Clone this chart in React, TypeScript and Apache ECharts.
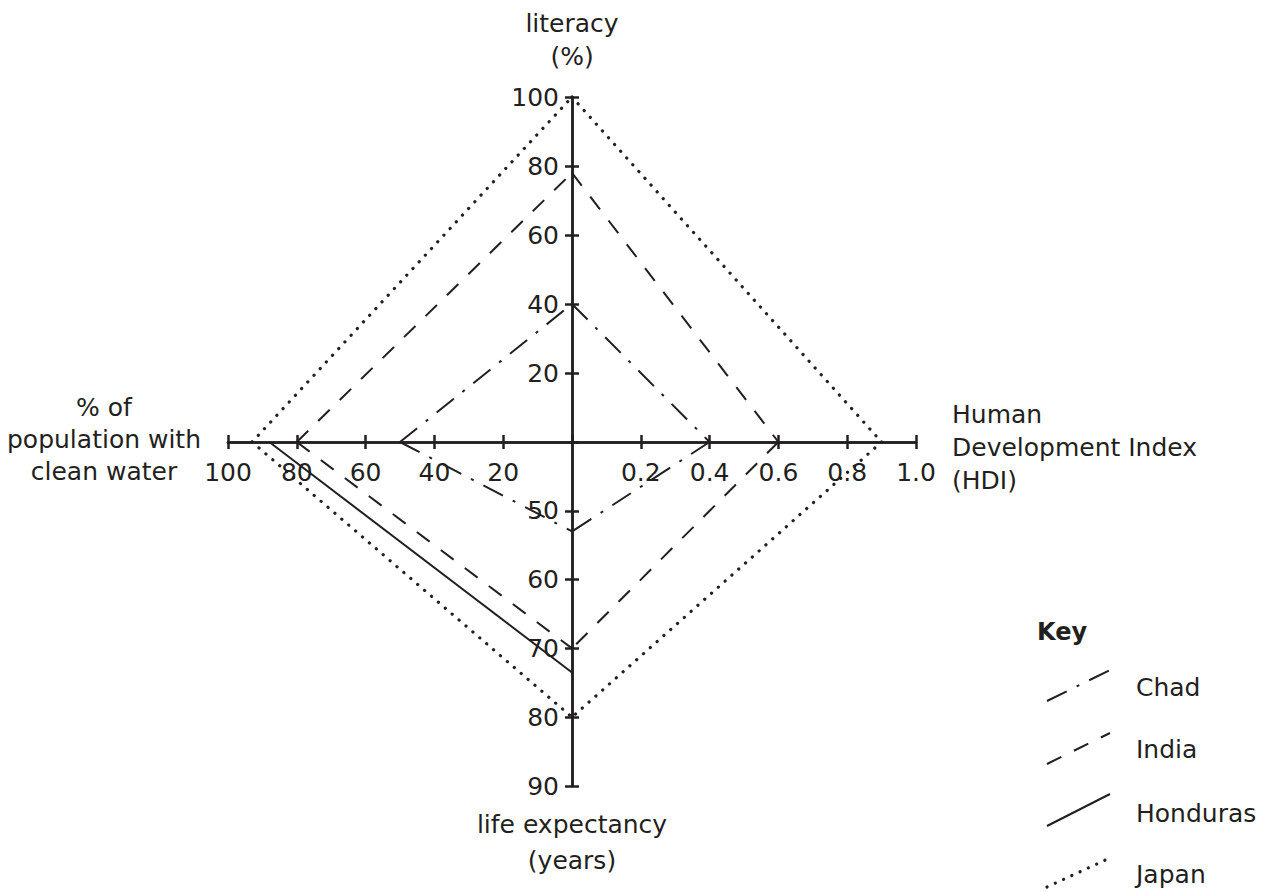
import React, { useEffect, useRef } from 'react';
import * as echarts from 'echarts';

// ---- data ----
const countries = ['Chad', 'India', 'Honduras', 'Japan'];
const literacy: (number | null)[] = [40, 78, null, 100];      // %
const hdi: (number | null)[] = [0.4, 0.6, null, 0.9];          // index
const lifeExpectancy: (number | null)[] = [53, 70, 73.5, 80]; // years
const cleanWater: (number | null)[] = [50, 80, 88, 93];        // %

const literacyTicks = [0, 20, 40, 60, 80, 100];
const hdiTicks = [0, 0.2, 0.4, 0.6, 0.8, 1.0];
const lifeTicks = [40, 50, 60, 70, 80, 90];
const waterTicks = [0, 20, 40, 60, 80, 100];

const INK = '#231f20';
const FONT = 'DejaVu Sans';

const lineStyles: any[] = [
  { type: [22, 11, 3, 11], width: 2, cap: 'butt' },
  { type: [16, 14], width: 2, cap: 'butt' },
  { type: 'solid', width: 2, cap: 'butt' },
  { type: [0.1, 9], width: 3.2, cap: 'round' },
];

const range = (t: number[]) => ({ min: t[0], max: t[t.length - 1], interval: t[1] - t[0] });

function axis(gridIndex: number, ticks: number[], extra: any) {
  const r = range(ticks);
  return {
    type: 'value',
    gridIndex,
    min: r.min,
    max: r.max,
    interval: r.interval,
    splitLine: { show: false },
    axisLine: { show: true, onZero: false, lineStyle: { color: INK, width: 2.5 } },
    axisTick: { show: true, inside: false, length: 7, lineStyle: { color: INK, width: 2.5 } },
    ...extra,
  };
}

const labelStyle = (margin: number, formatter?: any) => ({
  show: true,
  margin,
  color: INK,
  fontFamily: FONT,
  fontSize: 25,
  showMinLabel: false,
  ...(formatter ? { formatter } : {}),
});

function buildSeries() {
  const lifeMin = lifeTicks[0];
  const out: any[] = [];
  countries.forEach((name, i) => {
    const lit = literacy[i];
    const h = hdi[i];
    const life = lifeExpectancy[i];
    const w = cleanWater[i];
    const segs: { g: number; data: number[][] }[] = [];
    if (lit != null && h != null) segs.push({ g: 0, data: [[0, lit], [h, 0]] });
    if (w != null && lit != null) segs.push({ g: 1, data: [[w, 0], [0, lit]] });
    if (h != null && life != null) segs.push({ g: 2, data: [[h, lifeMin], [0, life]] });
    if (w != null && life != null) segs.push({ g: 3, data: [[w, lifeMin], [0, life]] });
    segs.forEach((s) => {
      out.push({
        name,
        type: 'line',
        xAxisIndex: s.g,
        yAxisIndex: s.g,
        data: s.data,
        symbol: 'none',
        showSymbol: false,
        clip: false,
        silent: true,
        lineStyle: { color: INK, ...lineStyles[i] },
      });
    });
  });
  return out;
}

const text = (t: string, x: number, y: number, align: string, extra: any = {}) => ({
  type: 'text',
  x,
  y,
  silent: true,
  style: {
    text: t,
    fill: INK,
    fontFamily: FONT,
    fontSize: 25,
    align,
    verticalAlign: 'middle',
    ...extra,
  },
});

const keyLine = (i: number, x1: number, y1: number, x2: number, y2: number) => {
  const ls = lineStyles[i];
  return {
    type: 'line',
    silent: true,
    shape: { x1, y1, x2, y2 },
    style: {
      stroke: INK,
      lineWidth: ls.width,
      lineDash: ls.type === 'solid' ? null : ls.type,
      lineCap: ls.cap,
    },
  };
};

export default function App() {
  const ref = useRef<HTMLDivElement>(null);
  useEffect(() => {
    if (!ref.current) return;
    const chart = echarts.init(ref.current, null, { renderer: 'svg' });
    const grids = [
      { left: 572, top: 97, width: 344, height: 345 },
      { left: 228, top: 97, width: 344, height: 345 },
      { left: 572, top: 442, width: 344, height: 344 },
      { left: 228, top: 442, width: 344, height: 344 },
    ].map((g) => ({ ...g, containLabel: false, outerBoundsMode: 'none', show: false }));

    const hdiFmt = (v: number) => v.toFixed(1);

    chart.setOption({
      animation: false,
      backgroundColor: '#ffffff',
      textStyle: { fontFamily: FONT },
      grid: grids,
      xAxis: [
        axis(0, hdiTicks, { position: 'bottom', axisLabel: labelStyle(18, hdiFmt) }),
        axis(1, waterTicks, { position: 'bottom', inverse: true, axisLabel: labelStyle(18) }),
        axis(2, hdiTicks, { position: 'top', axisLabel: { show: false } }),
        axis(3, waterTicks, { position: 'top', inverse: true, axisLabel: { show: false } }),
      ],
      yAxis: [
        axis(0, literacyTicks, { position: 'left', axisLabel: labelStyle(13) }),
        axis(1, literacyTicks, { position: 'right', axisLabel: { show: false } }),
        axis(2, lifeTicks, { position: 'left', inverse: true, axisLabel: labelStyle(13) }),
        axis(3, lifeTicks, { position: 'right', inverse: true, axisLabel: { show: false } }),
      ],
      series: buildSeries(),
      graphic: [
        // axis titles
        text('literacy', 572, 23, 'center'),
        text('(%)', 572, 56, 'center'),
        text('Human', 952, 414, 'left'),
        text('Development Index', 952, 447, 'left'),
        text('(HDI)', 952, 480, 'left'),
        text('% of', 104, 407, 'center'),
        text('population with', 104, 439, 'center'),
        text('clean water', 104, 471, 'center'),
        text('life expectancy', 572, 824, 'center'),
        text('(years)', 572, 860, 'center'),
        // key
        text('Key', 1037, 632, 'left', { fontWeight: 'bold', fontSize: 24 }),
        keyLine(0, 1047, 701, 1110, 670),
        text(countries[0], 1136, 687, 'left'),
        keyLine(1, 1047, 764, 1110, 733),
        text(countries[1], 1136, 749, 'left'),
        keyLine(2, 1047, 826, 1110, 794),
        text(countries[2], 1136, 813, 'left'),
        keyLine(3, 1047, 887, 1112, 857),
        text(countries[3], 1136, 874, 'left'),
      ],
    });
    return () => chart.dispose();
  }, []);
  return (
    <div
      ref={ref}
      style={{ position: 'absolute', left: 0, top: 0, width: 1272, height: 892 }}
    />
  );
}
